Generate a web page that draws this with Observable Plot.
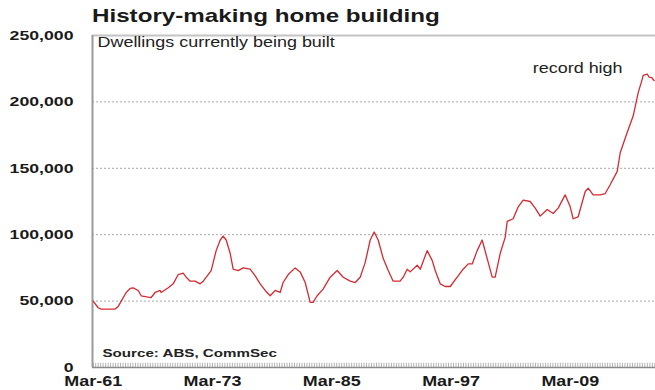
<!DOCTYPE html>
<html><head><meta charset="utf-8">
<script src="https://cdn.jsdelivr.net/npm/d3@7"></script>
<script src="https://cdn.jsdelivr.net/npm/@observablehq/plot@0.6"></script>
<style>
body{margin:0;background:#fff;width:655px;height:390px;overflow:hidden;font-family:"Liberation Sans",Arial,sans-serif;position:relative;}
#title{position:absolute;left:92px;top:6px;z-index:2;font-weight:bold;font-size:18.6px;line-height:20px;color:#1a1a1a;transform:scaleX(1.3);transform-origin:0 0;white-space:nowrap;}
#chart svg{display:block}
</style></head><body>
<div id="title">History-making home building</div>
<div id="chart"></div>
<script>
const years = [1961.17,1961.67,1961.97,1962.68,1963.38,1963.69,1963.99,1964.49,1964.89,1965.19,
1965.70,1966.0,1966.7,1967.0,1967.41,1967.91,1968.01,1968.72,1969.22,1969.72,
1970.22,1970.53,1970.93,1971.43,1971.93,1972.24,1972.74,1973.04,1973.54,1973.95,
1974.25,1974.55,1974.95,1975.25,1975.76,1976.26,1976.96,1977.47,1977.97,1978.47,
1978.98,1979.48,1979.98,1980.28,1980.79,1981.49,1981.99,1982.5,1982.8,1983.0,
1983.3,1983.7,1984.3,1985.01,1985.72,1986.32,1987.03,1987.53,1988.03,1988.53,
1989.04,1989.44,1989.84,1990.35,1990.85,1991.35,1992.05,1992.36,1992.76,1993.06,
1993.77,1994.07,1994.77,1995.28,1995.58,1996.08,1996.58,1997.09,1997.79,1998.39,
1998.9,1999.3,1999.8,2000.3,2000.81,2001.31,2001.61,2002.12,2002.62,2002.82,
2003.42,2003.93,2004.43,2005.13,2005.64,2006.14,2006.84,2007.45,2007.95,2008.65,
2009.16,2009.46,2009.96,2010.67,2010.97,2011.47,2012.18,2012.68,2013.18,2013.89,
2014.19,2014.89,2015.5,2016.0,2016.4,2016.5,2016.9,2017.1,2017.4,2017.6];
const dwellings = [50000,45000,44000,44000,44000,46000,50000,56500,59500,60000,
58000,54000,53000,52700,56500,58000,56500,60000,63000,70000,
71000,68000,65000,65000,63000,65000,70000,73000,88000,96000,
99000,96000,86000,74000,73000,75000,74000,69000,63000,58000,
54000,58000,56500,64000,70000,75000,72000,64000,55000,49000,
49000,54000,59000,68000,73000,68000,65000,64000,68000,79000,
96000,102000,96000,82000,73000,65000,65000,68000,74000,72000,
77000,74000,88000,80500,73000,63000,61000,61000,68000,74000,
78000,78000,88000,96000,82000,68000,68000,86000,98000,110000,
112000,121000,126000,125000,120000,114000,119000,116000,120000,130000,
121000,112000,113500,132500,135000,130000,130000,131000,137600,147700,
161700,177000,189500,207000,217000,220000,221000,218600,218000,216000];

const xTicks = [1961.17, 1973.17, 1985.17, 1997.17, 2009.17];
const xLabels = ["Mar-61", "Mar-73", "Mar-85", "Mar-97", "Mar-09"];
const yTicks = [0, 50000, 100000, 150000, 200000, 250000];
const noteLabels = ["record high"];
const noteX = [2005.4];
const noteY = [221400];
const subtitle = ["Dwellings currently being built"];
const source = ["Source: ABS, CommSec"];

const xStart = 1961.1, xEnd = 2017.74;
const minorTicks = d3.range(xTicks[0], xEnd, 0.25);
const data = years.map((y, i) => ({year: y, value: dwellings[i]}));
const notes = noteLabels.map((t, i) => ({text: t, x: noteX[i], y: noteY[i]}));

const chart = Plot.plot({
  width: 655, height: 390,
  marginTop: 35, marginBottom: 23, marginLeft: 92, marginRight: 0,
  style: {fontFamily: '"Liberation Sans", Arial, sans-serif', background: "#fff", color: "#1a1a1a"},
  x: {type: "linear", domain: [xStart, xEnd]},
  y: {domain: [0, 250000]},
  marks: [
    Plot.gridY(yTicks.filter(d => d > 0 && d < 250000), {stroke: "#a8a8a8", strokeOpacity: 1, strokeDasharray: "2,2", strokeWidth: 1}),
    Plot.ruleY([250000], {stroke: "#c4c4c4", strokeWidth: 2}),
    Plot.ruleX(minorTicks, {x: d => d, y1: 0, y2: 3200, stroke: "#a0a0a0", strokeWidth: 0.8}),
    Plot.ruleY([0], {stroke: "#8a8a8a", strokeWidth: 1.5}),
    Plot.ruleX([xStart], {stroke: "#9a9a9a", strokeWidth: 2}),
    Plot.line(data, {x: "year", y: "value", stroke: "#d42a32", strokeWidth: 1.3, curve: "linear"}),
    Plot.axisY({ticks: yTicks, tickFormat: d3.format(","), tickSize: 0, tickPadding: 19, fontWeight: "bold", fontSize: 13.6, fill: "#1a1a1a", label: null}),
    Plot.axisX({ticks: xTicks, tickFormat: d => xLabels[xTicks.indexOf(d)], tickSize: 0, tickPadding: 9, fontWeight: "bold", fontSize: 13.8, fill: "#1a1a1a", label: null}),
    Plot.text(subtitle, {frameAnchor: "top-left", dx: 5, dy: 2, lineAnchor: "top", textAnchor: "start", fontSize: 13.8, fill: "#222"}),
    Plot.text(source, {frameAnchor: "bottom-left", dx: 10, dy: -11, lineAnchor: "bottom", textAnchor: "start", fontSize: 11.65, fontWeight: "bold", fill: "#222"}),
    Plot.text(notes, {x: "x", y: "y", text: "text", lineAnchor: "bottom", textAnchor: "start", fontSize: 13.8, fill: "#222"})
  ]
});
document.getElementById("chart").append(chart);
chart.querySelectorAll("text").forEach(t => {
  if (t.querySelector("tspan")) return;
  const w = t.getComputedTextLength();
  if (w > 0) {
    t.setAttribute("textLength", (w * 1.3).toFixed(1));
    t.setAttribute("lengthAdjust", "spacingAndGlyphs");
  }
});
</script>
</body></html>
